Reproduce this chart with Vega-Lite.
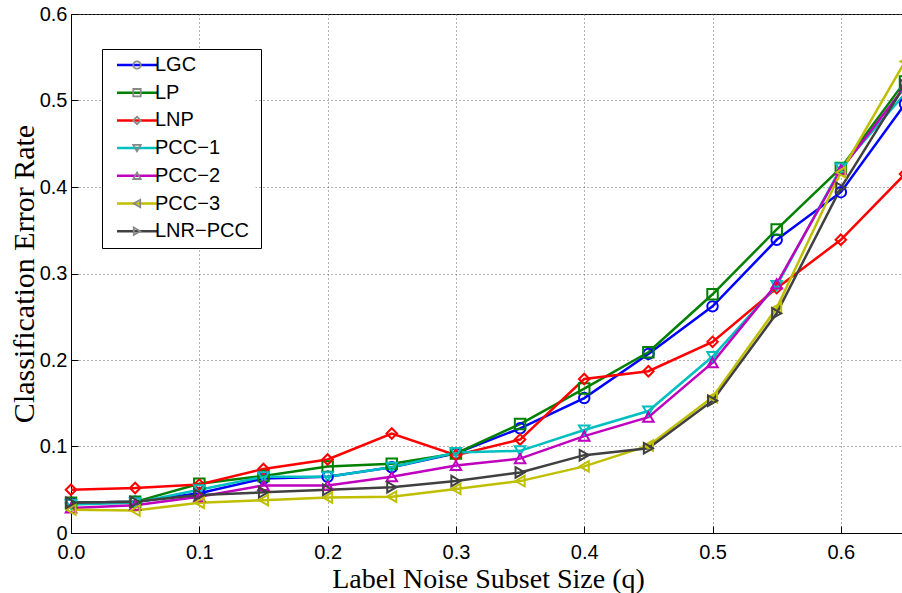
{
 "$schema": "https://vega.github.io/schema/vega-lite/v6.json",
 "width": 834, "height": 519,
 "autosize": {"type": "none"},
 "padding": {"left": 71, "top": 14, "right": 0, "bottom": 60},
 "background": "white",
 "config": {"view": {"stroke": "black", "strokeWidth": 1}, "font": "Liberation Sans"},
 "data": {"values": [
  {"q":0,"method":"LGC","m":"LGC","err":0.035},{"q":0.05,"method":"LGC","m":"LGC","err":0.036},{"q":0.1,"method":"LGC","m":"LGC","err":0.046},{"q":0.15,"method":"LGC","m":"LGC","err":0.063},{"q":0.2,"method":"LGC","m":"LGC","err":0.065},{"q":0.25,"method":"LGC","m":"LGC","err":0.076},{"q":0.3,"method":"LGC","m":"LGC","err":0.092},{"q":0.35,"method":"LGC","m":"LGC","err":0.121},{"q":0.4,"method":"LGC","m":"LGC","err":0.156},{"q":0.45,"method":"LGC","m":"LGC","err":0.207},{"q":0.5,"method":"LGC","m":"LGC","err":0.262},{"q":0.55,"method":"LGC","m":"LGC","err":0.339},{"q":0.6,"method":"LGC","m":"LGC","err":0.394},{"q":0.65,"method":"LGC","m":"LGC","err":0.496},
  {"q":0,"method":"LP","m":"LP","err":0.035},{"q":0.05,"method":"LP","m":"LP","err":0.036},{"q":0.1,"method":"LP","m":"LP","err":0.057},{"q":0.15,"method":"LP","m":"LP","err":0.066},{"q":0.2,"method":"LP","m":"LP","err":0.077},{"q":0.25,"method":"LP","m":"LP","err":0.080},{"q":0.3,"method":"LP","m":"LP","err":0.092},{"q":0.35,"method":"LP","m":"LP","err":0.126},{"q":0.4,"method":"LP","m":"LP","err":0.167},{"q":0.45,"method":"LP","m":"LP","err":0.209},{"q":0.5,"method":"LP","m":"LP","err":0.276},{"q":0.55,"method":"LP","m":"LP","err":0.351},{"q":0.6,"method":"LP","m":"LP","err":0.422},{"q":0.65,"method":"LP","m":"LP","err":0.522},
  {"q":0,"method":"LNP","m":"LNP","err":0.050},{"q":0.05,"method":"LNP","m":"LNP","err":0.052},{"q":0.1,"method":"LNP","m":"LNP","err":0.056},{"q":0.15,"method":"LNP","m":"LNP","err":0.074},{"q":0.2,"method":"LNP","m":"LNP","err":0.085},{"q":0.25,"method":"LNP","m":"LNP","err":0.115},{"q":0.3,"method":"LNP","m":"LNP","err":0.090},{"q":0.35,"method":"LNP","m":"LNP","err":0.108},{"q":0.4,"method":"LNP","m":"LNP","err":0.178},{"q":0.45,"method":"LNP","m":"LNP","err":0.187},{"q":0.5,"method":"LNP","m":"LNP","err":0.221},{"q":0.55,"method":"LNP","m":"LNP","err":0.283},{"q":0.6,"method":"LNP","m":"LNP","err":0.339},{"q":0.65,"method":"LNP","m":"LNP","err":0.415},
  {"q":0,"method":"PCC−1","m":"PCC−1","err":0.033},{"q":0.05,"method":"PCC−1","m":"PCC−1","err":0.035},{"q":0.1,"method":"PCC−1","m":"PCC−1","err":0.050},{"q":0.15,"method":"PCC−1","m":"PCC−1","err":0.065},{"q":0.2,"method":"PCC−1","m":"PCC−1","err":0.065},{"q":0.25,"method":"PCC−1","m":"PCC−1","err":0.076},{"q":0.3,"method":"PCC−1","m":"PCC−1","err":0.093},{"q":0.35,"method":"PCC−1","m":"PCC−1","err":0.095},{"q":0.4,"method":"PCC−1","m":"PCC−1","err":0.119},{"q":0.45,"method":"PCC−1","m":"PCC−1","err":0.141},{"q":0.5,"method":"PCC−1","m":"PCC−1","err":0.204},{"q":0.55,"method":"PCC−1","m":"PCC−1","err":0.286},{"q":0.6,"method":"PCC−1","m":"PCC−1","err":0.422},{"q":0.65,"method":"PCC−1","m":"PCC−1","err":0.508},
  {"q":0,"method":"PCC−2","m":"PCC−2","err":0.029},{"q":0.05,"method":"PCC−2","m":"PCC−2","err":0.032},{"q":0.1,"method":"PCC−2","m":"PCC−2","err":0.042},{"q":0.15,"method":"PCC−2","m":"PCC−2","err":0.055},{"q":0.2,"method":"PCC−2","m":"PCC−2","err":0.055},{"q":0.25,"method":"PCC−2","m":"PCC−2","err":0.065},{"q":0.3,"method":"PCC−2","m":"PCC−2","err":0.078},{"q":0.35,"method":"PCC−2","m":"PCC−2","err":0.086},{"q":0.4,"method":"PCC−2","m":"PCC−2","err":0.112},{"q":0.45,"method":"PCC−2","m":"PCC−2","err":0.134},{"q":0.5,"method":"PCC−2","m":"PCC−2","err":0.197},{"q":0.55,"method":"PCC−2","m":"PCC−2","err":0.288},{"q":0.6,"method":"PCC−2","m":"PCC−2","err":0.420},{"q":0.65,"method":"PCC−2","m":"PCC−2","err":0.516},
  {"q":0,"method":"PCC−3","m":"PCC−3","err":0.027},{"q":0.05,"method":"PCC−3","m":"PCC−3","err":0.026},{"q":0.1,"method":"PCC−3","m":"PCC−3","err":0.035},{"q":0.15,"method":"PCC−3","m":"PCC−3","err":0.038},{"q":0.2,"method":"PCC−3","m":"PCC−3","err":0.041},{"q":0.25,"method":"PCC−3","m":"PCC−3","err":0.042},{"q":0.3,"method":"PCC−3","m":"PCC−3","err":0.051},{"q":0.35,"method":"PCC−3","m":"PCC−3","err":0.060},{"q":0.4,"method":"PCC−3","m":"PCC−3","err":0.077},{"q":0.45,"method":"PCC−3","m":"PCC−3","err":0.101},{"q":0.5,"method":"PCC−3","m":"PCC−3","err":0.157},{"q":0.55,"method":"PCC−3","m":"PCC−3","err":0.260},{"q":0.6,"method":"PCC−3","m":"PCC−3","err":0.417},{"q":0.65,"method":"PCC−3","m":"PCC−3","err":0.545},
  {"q":0,"method":"LNR−PCC","m":"LNR−PCC","err":0.035},{"q":0.05,"method":"LNR−PCC","m":"LNR−PCC","err":0.036},{"q":0.1,"method":"LNR−PCC","m":"LNR−PCC","err":0.044},{"q":0.15,"method":"LNR−PCC","m":"LNR−PCC","err":0.047},{"q":0.2,"method":"LNR−PCC","m":"LNR−PCC","err":0.050},{"q":0.25,"method":"LNR−PCC","m":"LNR−PCC","err":0.053},{"q":0.3,"method":"LNR−PCC","m":"LNR−PCC","err":0.060},{"q":0.35,"method":"LNR−PCC","m":"LNR−PCC","err":0.070},{"q":0.4,"method":"LNR−PCC","m":"LNR−PCC","err":0.090},{"q":0.45,"method":"LNR−PCC","m":"LNR−PCC","err":0.098},{"q":0.5,"method":"LNR−PCC","m":"LNR−PCC","err":0.153},{"q":0.55,"method":"LNR−PCC","m":"LNR−PCC","err":0.254},{"q":0.6,"method":"LNR−PCC","m":"LNR−PCC","err":0.399},{"q":0.65,"method":"LNR−PCC","m":"LNR−PCC","err":0.518}
 ]},
 "encoding": {
  "x": {"field": "q", "type": "quantitative",
   "scale": {"domain": [0, 0.65], "nice": false, "zero": false},
   "axis": {"values": [0, 0.1, 0.2, 0.3, 0.4, 0.5, 0.6], "format": ".1f",
    "labelFont": "Liberation Sans", "labelFontSize": 20, "labelColor": "black", "labelFlush": false, "labelOverlap": false,
    "tickSize": -7, "tickColor": "black", "labelPadding": 16, "domainColor": "black",
    "grid": true, "gridDash": [1, 3], "gridColor": "#666666", "gridOpacity": 1,
    "title": "Label Noise Subset Size (q)", "titleFont": "Liberation Serif", "titleFontSize": 28, "titleFontWeight": "normal", "titleColor": "black",
    "titleY": 54, "titleBaseline": "alphabetic"}},
  "y": {"field": "err", "type": "quantitative",
   "scale": {"domain": [0, 0.6], "nice": false},
   "axis": {"values": [0, 0.1, 0.2, 0.3, 0.4, 0.5, 0.6], "format": "~g",
    "labelFont": "Liberation Sans", "labelFontSize": 20, "labelColor": "black", "labelOverlap": false, "labelFlush": false,
    "tickSize": -7, "tickColor": "black", "labelPadding": 11, "domainColor": "black",
    "grid": true, "gridDash": [1, 3], "gridColor": "#666666", "gridOpacity": 1,
    "title": "Classification Error Rate", "titleFont": "Liberation Serif", "titleFontSize": 30, "titleFontWeight": "normal", "titleColor": "black",
    "titleX": -38, "titleBaseline": "alphabetic"}}
 },
 "layer": [
  {"mark": {"type": "line", "strokeWidth": 2.5},
   "encoding": {"color": {"field": "method", "type": "nominal",
    "sort": ["LGC", "LP", "LNP", "PCC−1", "PCC−2", "PCC−3", "LNR−PCC"],
    "scale": {"range": ["#0000FF", "#008000", "#FF0000", "#00BFBF", "#BF00BF", "#BFBF00", "#404040"]},
    "legend": {"orient": "none", "legendX": 31, "legendY": 35, "title": null, "zindex": 1,
     "symbolType": "M-5.657,0H5.657", "symbolSize": 50, "symbolStrokeWidth": 2.5, "symbolOffset": 19,
     "labelOffset": 8, "labelFont": "Liberation Sans", "labelFontSize": 20, "labelColor": "black", "labelLimit": 300,
     "padding": 6, "rowPadding": 7.7, "strokeColor": "transparent", "fillColor": "white", "cornerRadius": 0}}}},
  {"mark": {"type": "point", "filled": false, "size": 110, "strokeWidth": 2, "opacity": 1},
   "encoding": {
    "color": {"field": "method", "type": "nominal", "sort": ["LGC", "LP", "LNP", "PCC−1", "PCC−2", "PCC−3", "LNR−PCC"], "legend": null},
    "shape": {"field": "m", "type": "nominal",
     "sort": ["LGC", "LP", "LNP", "PCC−1", "PCC−2", "PCC−3", "LNR−PCC"],
     "scale": {"range": ["circle", "square", "diamond", "triangle-down", "triangle-up", "triangle-left", "triangle-right"]},
     "legend": {"orient": "none", "legendX": 31, "legendY": 35, "title": null, "zindex": 2,
      "symbolSize": 55, "symbolStrokeWidth": 1.8, "symbolOffset": 19, "symbolFillColor": "transparent",
      "labelExpr": "''", "labelOffset": 108, "labelFont": "Liberation Sans", "labelFontSize": 20, "labelLimit": 300,
      "padding": 6, "rowPadding": 7.7, "strokeColor": "black", "fillColor": "transparent", "cornerRadius": 0,
      "encode": {"symbols": {"update": {"stroke": {"scale": "color", "field": "value"}, "fill": {"value": "transparent"}}}}}}}}
 ]
}
